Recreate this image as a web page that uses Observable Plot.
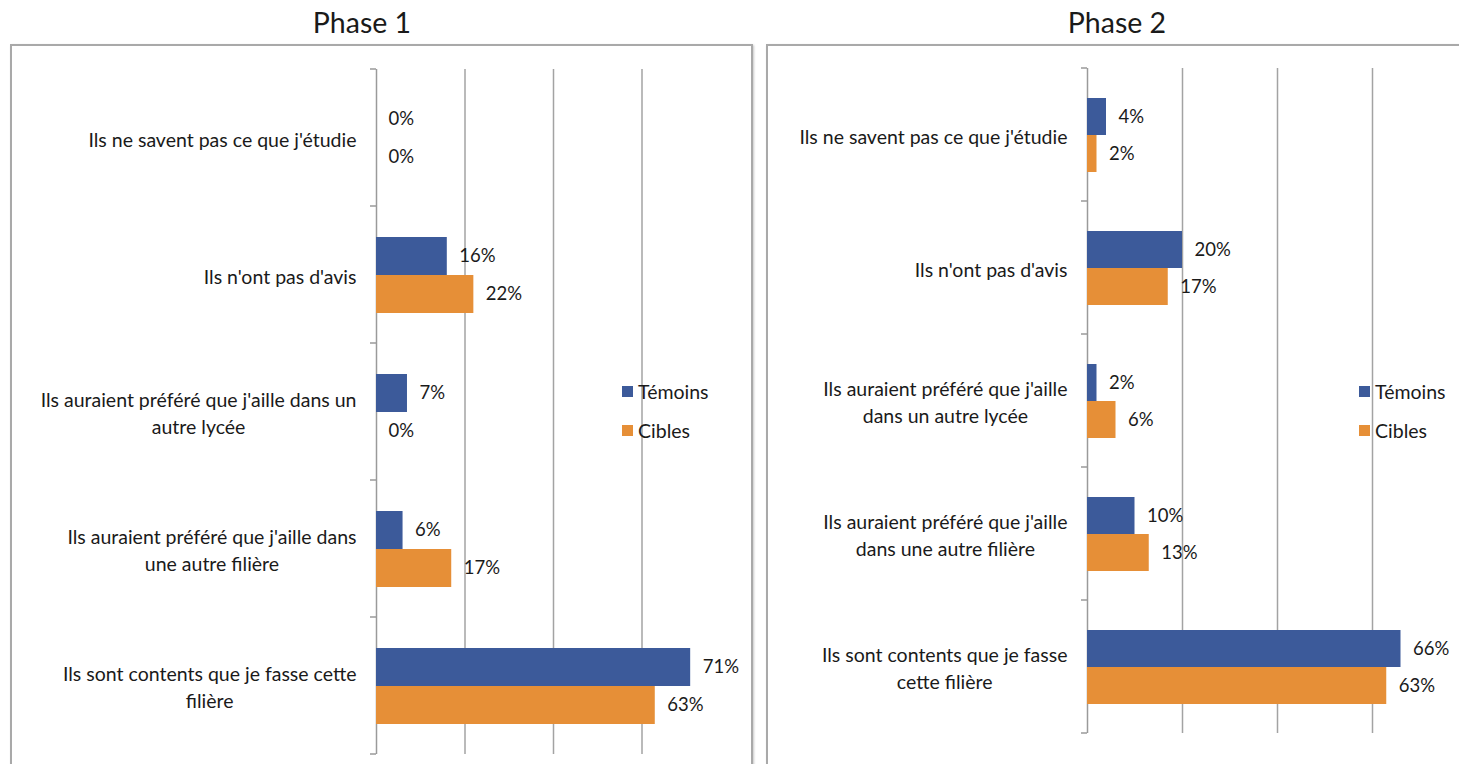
<!DOCTYPE html>
<html><head><meta charset="utf-8">
<script src="https://cdn.jsdelivr.net/npm/d3@7"></script>
<script src="https://cdn.jsdelivr.net/npm/@observablehq/plot@0.6"></script>
<style>
  html,body{margin:0;padding:0;background:#fff;}
  body{width:1459px;height:764px;overflow:hidden;position:relative;font-family:Lato,"Open Sans",sans-serif;color:#1a1a1a;}
  .title{position:absolute;top:5px;font-size:28.5px;transform:translateX(-50%);white-space:nowrap;}
  .panel{position:absolute;top:44px;box-sizing:border-box;border:2px solid #a9a9a9;box-shadow:1px 1px 2px #c8c8c8;background:#fff;}
  .chart{position:absolute;top:44px;}
  .chart svg{max-width:none !important;}
  .legend{position:absolute;font-size:19.5px;}
  .legend .row{display:flex;align-items:center;height:22px;position:absolute;left:0;white-space:nowrap;}
  .legend .sw{width:11px;height:11px;margin-right:5px;}
</style>
</head><body>
<div class="title" style="left:362px">Phase 1</div>
<div class="title" style="left:1117px">Phase 2</div>
<div class="panel" style="left:10px;width:743px;height:740px"></div>
<div class="panel" style="left:766px;width:720px;height:740px"></div>
<div id="c1" class="chart" style="left:10px;width:742px"></div>
<div id="c2" class="chart" style="left:766px;width:710px"></div>
<div id="lg1" class="legend" style="left:622px;top:380px"></div>
<div id="lg2" class="legend" style="left:1359px;top:380px"></div>
<script>
const categories = [
  "Ils ne savent pas ce que j'étudie",
  "Ils n'ont pas d'avis",
  "Ils auraient préféré que j'aille dans un autre lycée",
  "Ils auraient préféré que j'aille dans une autre filière",
  "Ils sont contents que je fasse cette filière"
];
const labelsPhase1 = [
  "Ils ne savent pas ce que j'étudie",
  "Ils n'ont pas d'avis",
  "Ils auraient préféré que j'aille dans un\nautre lycée",
  "Ils auraient préféré que j'aille dans\nune autre filière",
  "Ils sont contents que je fasse cette\nfilière"
];
const labelsPhase2 = [
  "Ils ne savent pas ce que j'étudie",
  "Ils n'ont pas d'avis",
  "Ils auraient préféré que j'aille\ndans un autre lycée",
  "Ils auraient préféré que j'aille\ndans une autre filière",
  "Ils sont contents que je fasse\ncette filière"
];
const series = ["Témoins", "Cibles"];
const colors = ["#3c5a9a", "#e68f37"];
const phase1Temoins = [0, 16, 7, 6, 71];
const phase1Cibles  = [0, 22, 0, 17, 63];
const phase2Temoins = [4, 20, 2, 10, 66];
const phase2Cibles  = [2, 17, 6, 13, 63];
const gridTicks = [20, 40, 60];
const xMax = 80;

function rows(t, c) {
  const out = [];
  categories.forEach((cat, i) => {
    out.push({category: cat, series: series[0], value: t[i]});
    out.push({category: cat, series: series[1], value: c[i]});
  });
  return out;
}

function chart(el, data, labels, dims) {
  const plot = Plot.plot({
    width: dims.width, height: dims.height,
    marginLeft: dims.ml, marginRight: dims.mr, marginTop: dims.mt, marginBottom: dims.mb,
    style: {fontFamily: "Lato, 'Open Sans', sans-serif", fontSize: "19.5px", color: "#1a1a1a", background: "transparent", overflow: "visible", maxWidth: "none"},
    x: {domain: [0, xMax], axis: null},
    y: {domain: series, paddingInner: 0, paddingOuter: 0.78, axis: null},
    fy: {domain: categories, padding: 0, label: null},
    color: {domain: series, range: colors},
    marks: [
      Plot.ruleX(gridTicks, {stroke: "#a3a3a3", strokeWidth: 1.5}),
      Plot.ruleX([0], {stroke: "#9a9a9a", strokeWidth: 1.5}),
      Plot.barX(data, {fy: "category", y: "series", x: "value", fill: "series"}),
      Plot.text(data, {fy: "category", y: "series", x: "value", text: d => d.value + "%", textAnchor: "start", dx: 12, fill: "#1a1a1a", fontSize: 18.5}),
      Plot.axisFy({anchor: "left", tickSize: 0, tickPadding: 20, label: null, lineHeight: 1.38, fontSize: 19.5,
        tickFormat: d => labels[categories.indexOf(d)]})
    ]
  });
  el.appendChild(plot);
  // category boundary ticks on the axis
  const fy = plot.scale("fy");
  const svg = d3.select(plot);
  const bounds = categories.map(c => fy.apply(c)).concat([fy.apply(categories[categories.length - 1]) + fy.bandwidth]);
  svg.append("g").selectAll("line").data(bounds).join("line")
    .attr("x1", dims.ml - 6).attr("x2", dims.ml).attr("y1", d => d).attr("y2", d => d)
    .attr("stroke", "#9a9a9a").attr("stroke-width", 1.5);
  // center multi-line category labels within their block (Excel style)
  plot.querySelectorAll('g[aria-label="fy-axis tick label"] text').forEach(t => {
    const spans = t.querySelectorAll("tspan");
    if (spans.length > 1) {
      const bb = t.getBBox();
      t.setAttribute("text-anchor", "middle");
      spans.forEach(s => s.setAttribute("x", bb.x + bb.width / 2));
    }
  });
}

chart(document.getElementById("c1"), rows(phase1Temoins, phase1Cibles), labelsPhase1,
  {width: 742, height: 720, ml: 366, mr: 22, mt: 24, mb: 9});
chart(document.getElementById("c2"), rows(phase2Temoins, phase2Cibles), labelsPhase2,
  {width: 710, height: 720, ml: 321, mr: 9, mt: 22, mb: 30});

function legend(el) {
  series.forEach((s, i) => {
    const r = document.createElement("div");
    r.className = "row";
    r.style.top = (i * 39) + "px";
    r.innerHTML = `<span class="sw" style="background:${colors[i]}"></span><span>${s}</span>`;
    el.appendChild(r);
  });
}
legend(document.getElementById("lg1"));
legend(document.getElementById("lg2"));
</script>
</body></html>
